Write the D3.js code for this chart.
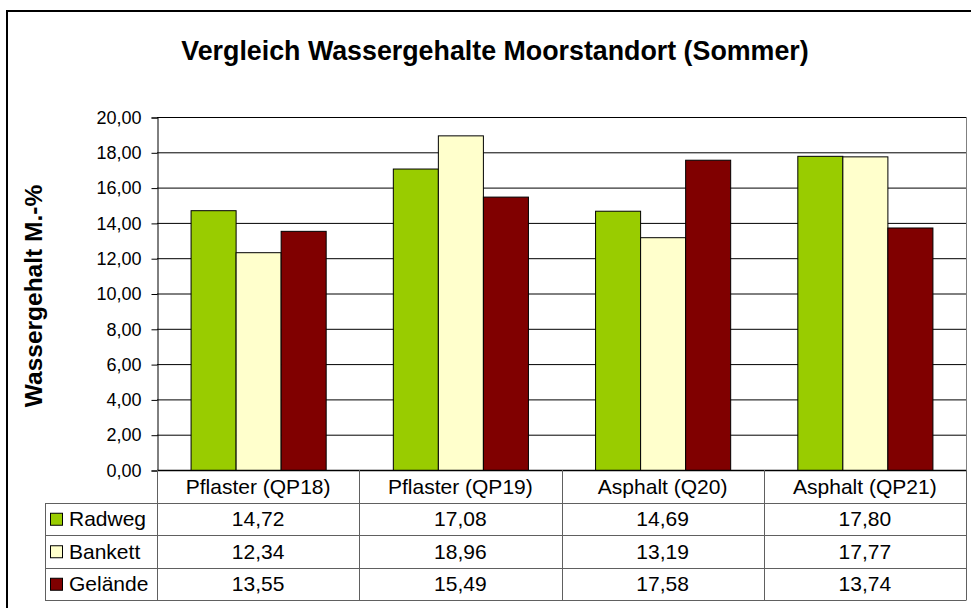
<!DOCTYPE html>
<html>
<head>
<meta charset="utf-8">
<script src="https://cdn.jsdelivr.net/npm/d3@7"></script>
<style>
  body { margin: 0; background: #fff; }
  svg { display: block; font-family: Arial, "Liberation Sans", sans-serif; }
</style>
</head>
<body>
<div id="chart"></div>
<script>
// data
var categories = ["Pflaster (QP18)", "Pflaster (QP19)", "Asphalt (Q20)", "Asphalt (QP21)"];
var seriesNames = ["Radweg", "Bankett", "Gelände"];
var radweg = [14.72, 17.08, 14.69, 17.80];
var bankett = [12.34, 18.96, 13.19, 17.77];
var gelaende = [13.55, 15.49, 17.58, 13.74];
var yTicks = [0, 2, 4, 6, 8, 10, 12, 14, 16, 18, 20];

var seriesValues = [radweg, bankett, gelaende];
var colors = ["#99cc00", "#ffffcc", "#800000"];

var W = 971, H = 608;
var plot = {left: 157, right: 966, top: 117, bottom: 470};
var rowH = 32.5;

var de = d3.formatLocale({decimal: ",", thousands: ".", grouping: [3], currency: ["", " €"]});
var fmt = de.format(".2f");

var svg = d3.select("#chart").append("svg")
	.attr("width", W)
	.attr("height", H);

// outer frame (cut off at right/bottom like the original)
svg.append("rect")
	.attr("x", 7).attr("y", 11)
	.attr("width", W + 20).attr("height", H + 20)
	.attr("fill", "#fff")
	.attr("stroke", "#000")
	.attr("stroke-width", 2);

svg.append("text")
	.attr("x", 495).attr("y", 60)
	.attr("text-anchor", "middle")
	.attr("font-weight", "bold")
	.attr("font-size", 26.8)
	.text("Vergleich Wassergehalte Moorstandort (Sommer)");

var x0 = d3.scaleBand().domain(categories).range([plot.left, plot.right]);
var x1 = d3.scaleBand().domain(seriesNames)
	.range([x0.bandwidth() * 0.166, x0.bandwidth() * 0.834]);
var y = d3.scaleLinear().domain([0, 20]).range([plot.bottom, plot.top]);

// gridlines
svg.append("g").selectAll("line")
	.data(yTicks.slice(1))
	.enter().append("line")
	.attr("x1", plot.left).attr("x2", plot.right)
	.attr("y1", function(d) { return y(d) + 0.5; })
	.attr("y2", function(d) { return y(d) + 0.5; })
	.attr("stroke", "#000");

// plot area right border
svg.append("line")
	.attr("x1", plot.right + 0.5).attr("x2", plot.right + 0.5)
	.attr("y1", plot.top).attr("y2", plot.bottom)
	.attr("stroke", "#808080");

// y axis
var yAxis = d3.axisLeft(y)
	.tickValues(yTicks)
	.tickSize(6)
	.tickPadding(10)
	.tickFormat(fmt);

var ax = svg.append("g")
	.attr("transform", "translate(" + (plot.left + 0.5) + ",0.5)")
	.call(yAxis);
ax.select(".domain").attr("stroke", "#000");
ax.selectAll(".tick line").attr("stroke", "#000");
ax.selectAll(".tick text")
	.attr("font-family", "Arial, 'Liberation Sans', sans-serif")
	.attr("font-size", 18)
	.attr("fill", "#000");

svg.append("text")
	.attr("transform", "translate(42,296) rotate(-90)")
	.attr("text-anchor", "middle")
	.attr("font-weight", "bold")
	.attr("font-size", 24.5)
	.text("Wassergehalt M.-%");

// bars
var groups = svg.append("g").selectAll("g")
	.data(categories)
	.enter().append("g")
	.attr("transform", function(d) { return "translate(" + x0(d) + ",0)"; });

groups.selectAll("rect")
	.data(function(d, i) {
		return seriesNames.map(function(s, k) { return {s: s, k: k, v: seriesValues[k][i]}; });
	})
	.enter().append("rect")
	.attr("x", function(d) { return x1(d.s) + 0.5; })
	.attr("y", function(d) { return y(d.v) + 0.5; })
	.attr("width", x1.bandwidth())
	.attr("height", function(d) { return y(0) - y(d.v); })
	.attr("fill", function(d) { return colors[d.k]; })
	.attr("stroke", "#000")
	.attr("stroke-width", 1);

// x axis baseline
svg.append("line")
	.attr("x1", plot.left).attr("x2", plot.right)
	.attr("y1", plot.bottom + 0.5).attr("y2", plot.bottom + 0.5)
	.attr("stroke", "#000")
	.attr("stroke-width", 1.5);

// data table
var tableLeft = 45;
var tableTop = plot.bottom;
var tableBottom = tableTop + rowH * 4;
var tbl = svg.append("g").attr("stroke", "#606060").attr("stroke-width", 1);

// horizontal row lines
d3.range(1, 5).forEach(function(r) {
	tbl.append("line")
		.attr("x1", tableLeft).attr("x2", plot.right)
		.attr("y1", Math.round(tableTop + rowH * r) + 0.5)
		.attr("y2", Math.round(tableTop + rowH * r) + 0.5);
});
// vertical lines
categories.concat([null]).forEach(function(c, i) {
	var xx = c ? x0(c) : plot.right;
	tbl.append("line")
		.attr("x1", Math.round(xx) + 0.5).attr("x2", Math.round(xx) + 0.5)
		.attr("y1", tableTop).attr("y2", Math.round(tableBottom) + 0.5);
});
tbl.append("line")
	.attr("x1", tableLeft + 0.5).attr("x2", tableLeft + 0.5)
	.attr("y1", Math.round(tableTop + rowH) + 0.5).attr("y2", Math.round(tableBottom) + 0.5);

// category labels
svg.append("g").selectAll("text")
	.data(categories)
	.enter().append("text")
	.attr("x", function(d) { return x0(d) + x0.bandwidth() / 2; })
	.attr("y", tableTop + rowH / 2 + 7.5)
	.attr("text-anchor", "middle")
	.attr("font-size", 21)
	.text(function(d) { return d; });

// series rows
seriesNames.forEach(function(s, k) {
	var rowY = tableTop + rowH * (k + 1);
	svg.append("rect")
		.attr("x", 50.5).attr("y", rowY + rowH / 2 - 6 + 0.5)
		.attr("width", 12).attr("height", 12)
		.attr("fill", colors[k])
		.attr("stroke", "#000");
	svg.append("text")
		.attr("x", 69).attr("y", rowY + rowH / 2 + 7.5)
		.attr("font-size", 21)
		.text(s);
	svg.append("g").selectAll("text")
		.data(seriesValues[k])
		.enter().append("text")
		.attr("x", function(d, i) { return x0(categories[i]) + x0.bandwidth() / 2; })
		.attr("y", rowY + rowH / 2 + 7.5)
		.attr("text-anchor", "middle")
		.attr("font-size", 21)
		.text(function(d) { return fmt(d); });
});
</script>
</body>
</html>
